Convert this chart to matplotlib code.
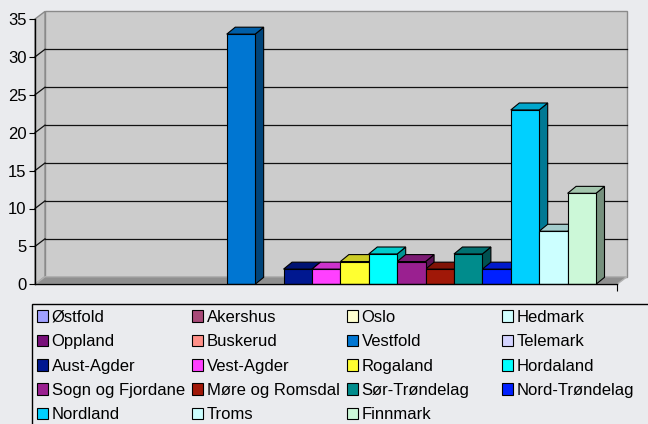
import numpy as np
import matplotlib
matplotlib.use("Agg")
import matplotlib.pyplot as plt
from matplotlib.patches import Polygon, Rectangle, Patch
from matplotlib.colors import to_rgb

plt.rcParams['font.family'] = ['Liberation Sans', 'DejaVu Sans']

counties = ["Østfold", "Akershus", "Oslo", "Hedmark", "Oppland", "Buskerud",
            "Vestfold", "Telemark", "Aust-Agder", "Vest-Agder", "Rogaland",
            "Hordaland", "Sogn og Fjordane", "Møre og Romsdal", "Sør-Trøndelag",
            "Nord-Trøndelag", "Nordland", "Troms", "Finnmark"]
values = [0, 0, 0, 0, 0, 0, 33, 0, 2, 2, 3, 4, 3, 2, 4, 2, 23, 7, 12]
colors = ["#a0a0ff", "#a84a78", "#ffffd0", "#d0ffff", "#78107a", "#ff9088",
          "#0076d2", "#d4d4ff", "#001890", "#ff40ff", "#ffff30", "#00ffff",
          "#9a2090", "#a01808", "#008c8c", "#0020ff", "#00d0ff", "#ccffff",
          "#ccf8d8"]
yticks = [0, 5, 10, 15, 20, 25, 30, 35]

W, H = 648, 424
fig = plt.figure(figsize=(W/100, H/100), dpi=100, facecolor="#eaebee")
ax = fig.add_axes([35/W, 1 - 284.3/H, 582/W, 265.3/H])
ax.set_facecolor("none")

x0, x1 = -1.25, 19.24
ax.set_xlim(x0, x1)
ax.set_ylim(0, 35)

# depth of the wall and of the bars (data units)
wdx, wdy = 0.352, 1.0
bdx, bdy = 0.30, 0.92

# walls and floor
back = Polygon([(x0+wdx, wdy), (x1+wdx, wdy), (x1+wdx, 35+wdy), (x0+wdx, 35+wdy)],
               closed=True, facecolor="#cccccc", edgecolor="#8a8a8a", lw=1, zorder=0.5, clip_on=False)
side = Polygon([(x0, 0), (x0+wdx, wdy), (x0+wdx, 35+wdy), (x0, 35)],
               closed=True, facecolor="#c6c6c6", edgecolor="#8a8a8a", lw=1, zorder=0.6, clip_on=False)
floor = Polygon([(x0, 0), (x1, 0), (x1+wdx, wdy), (x0+wdx, wdy)],
                closed=True, facecolor="#8f8f8f", edgecolor="#b0b0b0", lw=1, zorder=0.7, clip_on=False)
for p in (back, side, floor):
    ax.add_patch(p)

for v in yticks[1:-1]:
    ax.plot([x0+wdx, x1+wdx], [v+wdy, v+wdy], color="#111111", lw=0.9, zorder=0.8, clip_on=False)
    ax.plot([x0, x0+wdx], [v, v+wdy], color="#111111", lw=0.9, zorder=0.8, clip_on=False)

# bars
x = np.arange(len(values))
vals = np.array(values, dtype=float)
pos = vals > 0
ax.bar(x[pos], vals[pos], width=1.0, color=[colors[i] for i in x[pos]],
       edgecolor="black", lw=0.8, zorder=3)
for i in x[pos]:
    c = np.array(to_rgb(colors[i]))
    l, r, h = i - 0.5, i + 0.5, vals[i]
    ax.add_patch(Polygon([(r, 0), (r+bdx, bdy), (r+bdx, h+bdy), (r, h)], closed=True,
                         facecolor=c*0.58, edgecolor="black", lw=0.8, zorder=2, clip_on=False))
    ax.add_patch(Polygon([(l, h), (r, h), (r+bdx, h+bdy), (l+bdx, h+bdy)], closed=True,
                         facecolor=c*0.8, edgecolor="black", lw=0.8, zorder=2, clip_on=False))

# axes
for s in ("top", "right"):
    ax.spines[s].set_visible(False)
for s in ("left", "bottom"):
    ax.spines[s].set_color("black")
    ax.spines[s].set_linewidth(1)
    ax.spines[s].set_zorder(5)
ax.set_yticks(yticks)
ax.tick_params(axis="y", direction="out", length=4, width=0.8, labelsize=12, pad=2, colors="black")
ax.set_xticks([x1])
ax.set_xticklabels([""])
ax.tick_params(axis="x", direction="out", length=5, width=0.8)

# legend, 4 columns
col_x = [37, 192, 347, 502]
for c in range(4):
    idx = list(range(c, len(counties), 4))
    handles = [Patch(facecolor=colors[i], edgecolor="black", lw=0.8) for i in idx]
    fig.legend(handles, [counties[i] for i in idx], loc="upper left",
               bbox_to_anchor=(col_x[c]/W, 1 - 310/H), frameon=False, fontsize=12,
               handlelength=0.68, handleheight=0.68, handletextpad=0.2,
               labelspacing=0.56, borderpad=0, borderaxespad=0)
fig.add_artist(Rectangle((31.7/W, -0.1), 1, 1 - 304/H + 0.1, transform=fig.transFigure,
                         fill=False, edgecolor="black", lw=1))

fig.savefig("out.png", dpi=100, facecolor=fig.get_facecolor())
